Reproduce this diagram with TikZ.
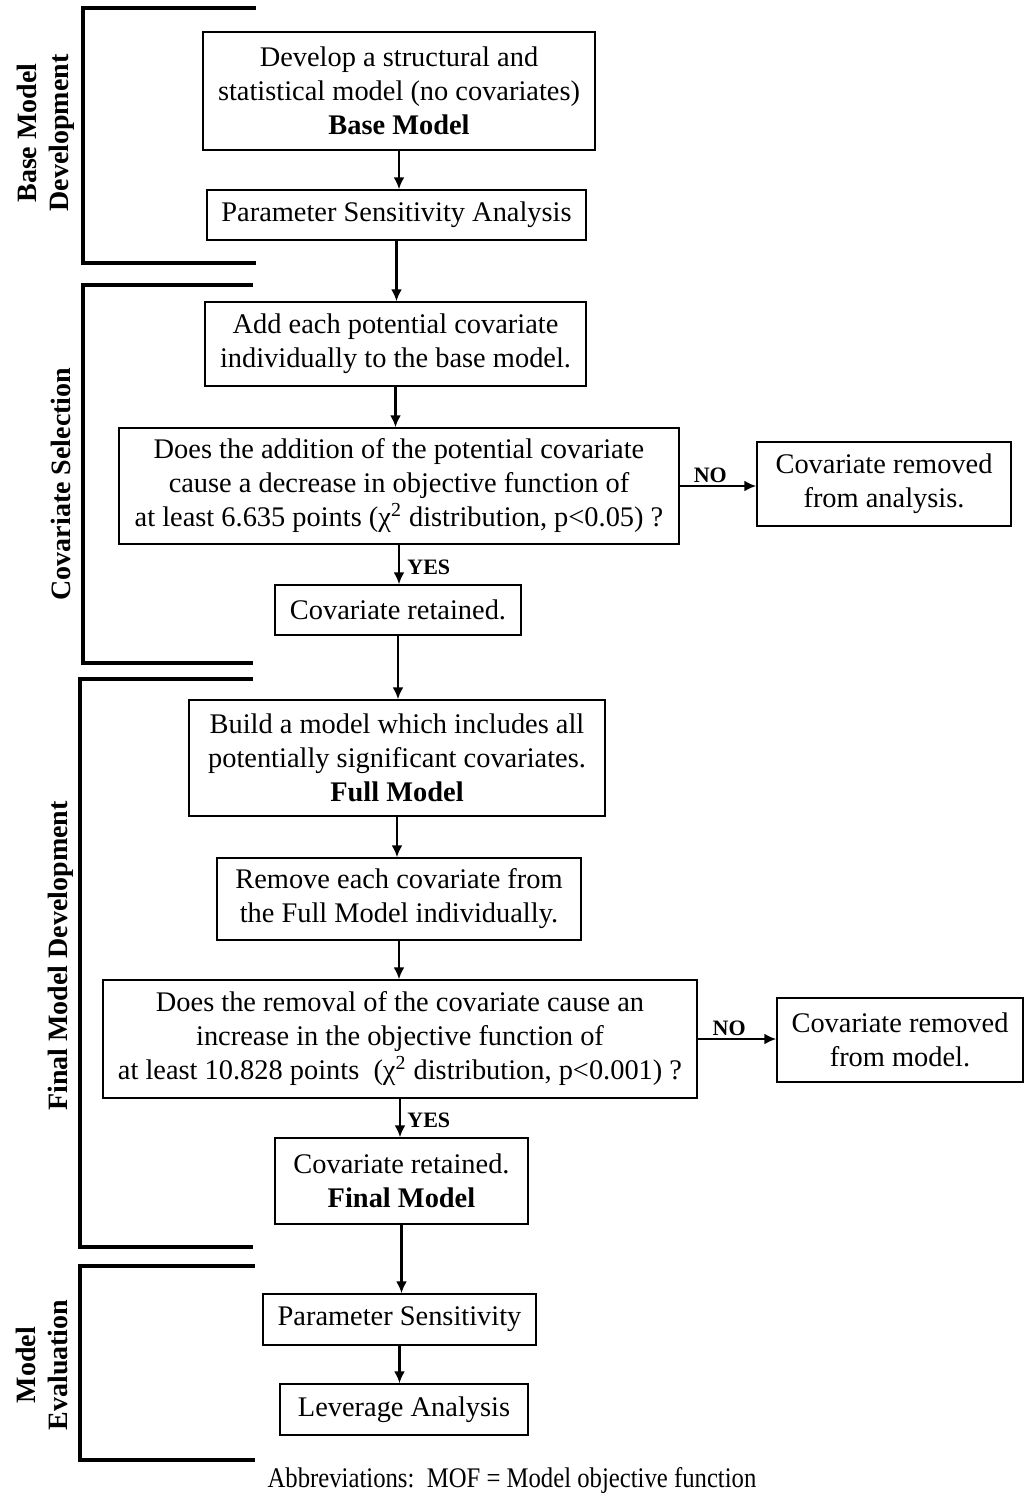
\documentclass[tikz,border=0pt]{standalone}
\usepackage{fontspec}
\setmainfont{Liberation Serif}
\newfontfamily\narrowfont{Liberation Serif}[FakeStretch=0.87]
\usetikzlibrary{arrows.meta}
\begin{document}
\begin{tikzpicture}[x=0.5pt, y=-0.5pt, >={Latex[length=6pt,width=5.5pt]}]
\tikzstyle{every node} = [font=\fontsize{14.2}{17}\selectfont, align=center]
\tikzstyle{box} = [draw, line width=0.7pt, inner sep=0pt]
\tikzstyle{lbl} = [font=\fontsize{11}{13}\selectfont\bfseries, inner sep=1pt]
\tikzstyle{side} = [rotate=90, font=\fontsize{14}{16}\selectfont\bfseries]
\tikzstyle{bracket} = [line width=1.7pt]
\tikzstyle{arr} = [->, line width=1.2pt]
\useasboundingbox (0,0) rectangle (1024,1495);
% phase brackets
\draw[bracket] (256,8) -| (83,263) -- (256,263);
\draw[bracket] (253,285) -| (83,663) -- (253,663);
\draw[bracket] (253,679) -| (80,1247) -- (253,1247);
\draw[bracket] (255,1266) -| (80,1460) -- (255,1460);
\node[side] (s1) at (46,133) {Base Model\\Development};
\node[side] (s2) at (61,484) {Covariate Selection};
\node[side] (s3) at (61,956) {Final Model Development};
\node[side] (s4) at (42,1365) {Model\\Evaluation};
% steps
\node[box, minimum width=196pt, minimum height=59pt] (base) at (399,91)
  {Develop a structural and\\statistical model (no covariates)\\\textbf{Base Model}};
\node[box, minimum width=189.5pt, minimum height=25pt] (psa) at (396.5,215)
  {Parameter Sensitivity Analysis};
\node[box, minimum width=190.5pt, minimum height=42pt] (add) at (395.5,344)
  {Add each potential covariate\\individually to the base model.};
\node[box, minimum width=280pt, minimum height=58pt] (dec1) at (399,486)
  {Does the addition of the potential covariate\\cause a decrease in objective function of\\at least 6.635 points (χ\textsuperscript{2} distribution, p<0.05) ?};
\node[box, minimum width=127pt, minimum height=42pt] (rem1) at (884,484)
  {Covariate removed\\from analysis.};
\node[box, minimum width=123pt, minimum height=25pt] (ret1) at (398,610)
  {Covariate retained.};
\node[box, minimum width=208pt, minimum height=58pt] (full) at (397,758)
  {Build a model which includes all\\potentially significant covariates.\\\textbf{Full Model}};
\node[box, minimum width=182pt, minimum height=41pt] (remeach) at (399,899)
  {Remove each covariate from\\the Full Model individually.};
\node[box, minimum width=297pt, minimum height=59pt] (dec2) at (400,1039)
  {Does the removal of the covariate cause an\\increase in the objective function of\\at least 10.828 points\ \ (χ\textsuperscript{2} distribution, p<0.001) ?};
\node[box, minimum width=123pt, minimum height=42pt] (rem2) at (900,1040)
  {Covariate removed\\from model.};
\node[box, minimum width=126.5pt, minimum height=43pt] (final) at (401.5,1181)
  {Covariate retained.\\\textbf{Final Model}};
\node[box, minimum width=136.5pt, minimum height=25.5pt] (ps) at (399.5,1319.5)
  {Parameter Sensitivity};
\node[box, minimum width=124pt, minimum height=25.5pt] (lev) at (404,1409.5)
  {Leverage Analysis};
\node[font=\fontsize{14.2}{17}\narrowfont] (abbr) at (512,1481) {Abbreviations:\ \ MOF = Model objective function};
% connectors
\foreach \from/\to in {base/psa, psa/add, add/dec1, dec1/ret1, ret1/full, full/remeach, remeach/dec2, dec2/final, final/ps, ps/lev}
\draw[arr] (\from.south) -- (\from.south |- \to.north);
\draw[arr] (dec1.east) -- (rem1.west |- dec1.east) node[lbl, pos=0.4, above] {NO};
\draw[arr] (dec2.east) -- (rem2.west |- dec2.east) node[lbl, pos=0.4, above] {NO};
\node[lbl, right] (yes1) at (405,567) {YES};
\node[lbl, right] (yes2) at (405,1120) {YES};
\end{tikzpicture}
\end{document}
